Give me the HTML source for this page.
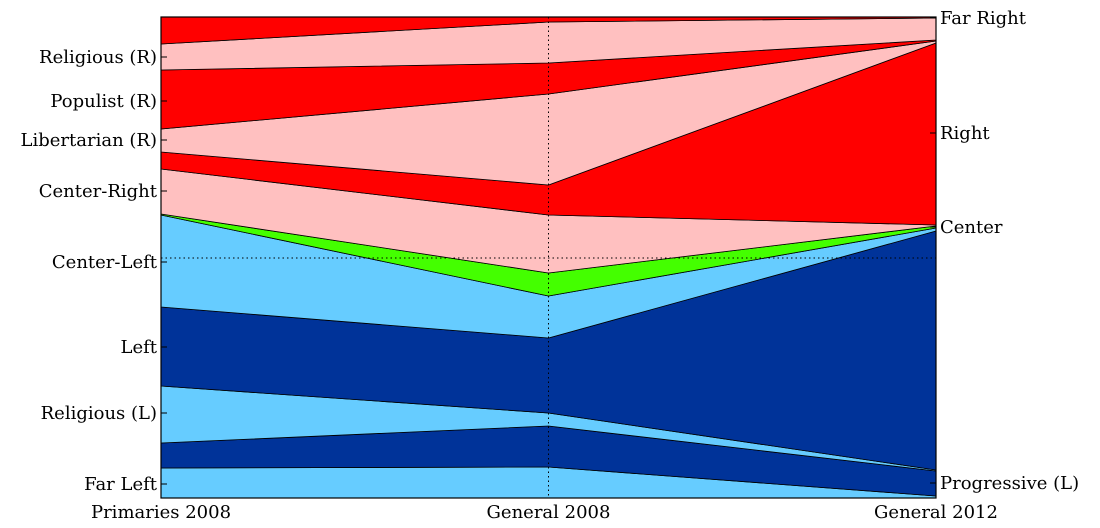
<!DOCTYPE html>
<html><head><meta charset="utf-8"><style>
html,body{margin:0;padding:0;background:#fff;width:1100px;height:528px;overflow:hidden}
svg text{font-family:"DejaVu Serif","Liberation Serif",serif;font-size:18px;fill:#000}
</style></head><body>
<svg id="chart" width="1100" height="528" xmlns="http://www.w3.org/2000/svg"></svg>
<script>
const periods = ["Primaries 2008","General 2008","General 2012"];
const layerNames = ["Far Left","Progressive (L)","Religious (L)","Left","Center-Left","Center","Center-Right","Right","Libertarian (R)","Populist (R)","Religious (R)","Far Right"];
const primaries2008 = [30,25,57,79,92,1,45,17,23,59,26,27];
const general2008 = [31,41,13,75,42,23,58,30,91,31,41,5];
const general2012 = [2,25,1,239,3,2,1,182,2,1,22,1];
const colors = ["#66ccff","#003399","#66ccff","#003399","#66ccff","#44ff00","#ffc0c0","#ff0000","#ffc0c0","#ff0000","#ffc0c0","#ff0000"];
const leftTicks = [["Religious (R)",57],["Populist (R)",101],["Libertarian (R)",140],["Center-Right",191],["Center-Left",262],["Left",347],["Religious (L)",413],["Far Left",484]];
const rightTicks = [["Far Right",18],["Right",133],["Center",227],["Progressive (L)",483]];

const X0=161,X1=936,Y0=17,Y1=498;
const svg=document.getElementById('chart');
const NS="http://www.w3.org/2000/svg";
function mk(t,a){const e=document.createElementNS(NS,t);for(const k in a)e.setAttribute(k,a[k]);svg.appendChild(e);return e;}
const cols=[primaries2008,general2008,general2012];
function xs(i){return X0+(X1-X0)*i/(periods.length-1);}
function ys(frac){return Y1-(Y1-Y0)*frac;}
const cum=cols.map(c=>{const t=c.reduce((a,b)=>a+b,0);let s=0;const r=[0];c.forEach(v=>{s+=v;r.push(s/t);});return r;});
for(let L=0;L<layerNames.length;L++){
  const top=[],bot=[];
  for(let i=0;i<cols.length;i++){top.push([xs(i),ys(cum[i][L+1])]);bot.push([xs(i),ys(cum[i][L])]);}
  const pts=top.concat(bot.reverse()).map(p=>p.join(',')).join(' ');
  const p=mk('polygon',{points:pts,fill:colors[L],stroke:'#000','stroke-width':0.8,'stroke-linejoin':'round'});
  
  
}
const g1=mk('line',{x1:X0,x2:X1,y1:258,y2:258,stroke:'#000','stroke-dasharray':'1.5,3','stroke-width':1});


const g2=mk('line',{x1:xs(1),x2:xs(1),y1:Y0,y2:Y1,stroke:'#000','stroke-dasharray':'1.5,3','stroke-width':1});


const fr=mk('rect',{x:X0,y:Y0,width:X1-X0,height:Y1-Y0,fill:'none',stroke:'#000','stroke-width':1.2});


leftTicks.forEach(([t,y])=>{
  const l=mk('line',{x1:X0,x2:X0+6,y1:y,y2:y,stroke:'#000'});
  
  
  const tx=mk('text',{x:X0-4,y:y+6,'text-anchor':'end'});tx.textContent=t;
  
  
});
rightTicks.forEach(([t,y])=>{
  const l=mk('line',{x1:X1-6,x2:X1,y1:y,y2:y,stroke:'#000'});
  
  
  const tx=mk('text',{x:X1+4,y:y+6,'text-anchor':'start'});tx.textContent=t;
  
  
});
periods.forEach((p,i)=>{
  const tx=mk('text',{x:xs(i),y:518,'text-anchor':'middle'});tx.textContent=p;
  
  
});
</script>
</body></html>
